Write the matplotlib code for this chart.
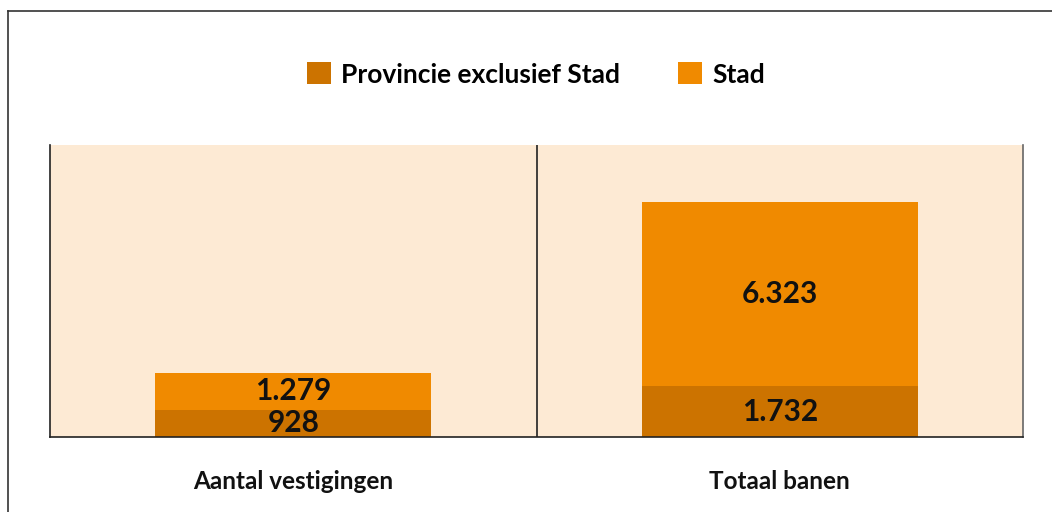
import matplotlib.pyplot as plt
from matplotlib.lines import Line2D

# Data
categories = ['Aantal vestigingen', 'Totaal banen']
provincie = [928, 1732]
stad = [1279, 6323]
labels_provincie = ['928', '1.732']
labels_stad = ['1.279', '6.323']

col_prov = '#CC7300'
col_stad = '#F08A00'
col_bg = '#FDEAD4'

plt.rcParams['font.family'] = ['Lato', 'DejaVu Sans']

fig = plt.figure(figsize=(10.52, 5.12), dpi=100)
ax = fig.add_axes([50 / 1052, 1 - 437 / 512, 973 / 1052, 292 / 512])
ax.set_facecolor(col_bg)

x = list(range(len(categories)))
w = 0.567
b1 = ax.bar(x, provincie, width=w, color=col_prov, label='Provincie exclusief Stad')
b2 = ax.bar(x, stad, width=w, bottom=provincie, color=col_stad, label='Stad')

for i in x:
    ax.text(i, provincie[i] / 2, labels_provincie[i], ha='center', va='center',
            fontsize=21.5, fontweight='bold', color='#111111')
    ax.text(i, provincie[i] + stad[i] / 2, labels_stad[i], ha='center', va='center',
            fontsize=21.5, fontweight='bold', color='#111111')

ax.set_xlim(-0.5, 1.5)
ax.set_ylim(0, 10000)
ax.axvline(0.5, color='#222222', lw=1.2)
ax.set_yticks([])
ax.set_xticks(x)
ax.set_xticklabels(categories, fontsize=17.5, fontweight='bold', color='#111111')
ax.tick_params(axis='x', length=0, pad=24)

ax.spines['top'].set_visible(False)
ax.spines['left'].set_color('#222222')
ax.spines['bottom'].set_color('#222222')
ax.spines['right'].set_color('#666666')
for s in ['left', 'bottom', 'right']:
    ax.spines[s].set_linewidth(1.2)

fig.legend(handles=[b1, b2], loc='center', bbox_to_anchor=(536 / 1052, 1 - 74.5 / 512),
           ncol=2, frameon=False, prop={'size': 19, 'weight': 'bold'},
           handlelength=0.9, handleheight=0.9, handletextpad=0.4, columnspacing=2.2)

# outer frame
fx = 8 / 1052
fy = 1 - 11 / 512
fig.add_artist(Line2D([fx, fx], [0, fy], color='#333333', lw=1.2))
fig.add_artist(Line2D([fx, 1], [fy, fy], color='#333333', lw=1.2))

fig.savefig('out.png', dpi=100)
